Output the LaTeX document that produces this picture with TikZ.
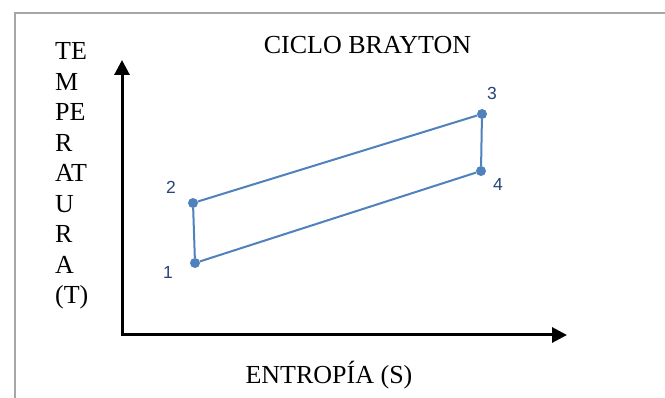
\documentclass[tikz,border=0pt]{standalone}
\usepackage{fontspec}
\setmainfont{Liberation Serif}
\newfontfamily\numfont{Liberation Sans}
\usetikzlibrary{arrows.meta}
\definecolor{cyc}{RGB}{79,129,189}
\definecolor{lab}{RGB}{38,68,120}
\definecolor{framec}{RGB}{166,166,166}
\begin{document}
\begin{tikzpicture}[x=1pt,y=-1pt,
  axis/.style={line width=3pt,{Triangle[length=15pt,width=15pt]}-{Triangle[length=15pt,width=15pt]}},
  cyclin/.style={draw=cyc,line width=2pt},
  pt/.style={circle,fill=cyc,inner sep=0pt,minimum size=10pt},
  num/.style={font=\numfont\fontsize{17.5}{20}\selectfont,text=lab,inner sep=0pt},
  big/.style={font=\fontsize{26}{30}\selectfont,inner sep=0pt}]
\useasboundingbox (0,0) rectangle (665,398);
\fill[white] (0,0) rectangle (665,398);
\draw[framec, line width=1.5pt] (15,402) -- (15,13) -- (669,13);
% axes
\coordinate (O) at (122,335);
\coordinate (ytip) at (122,60);
\coordinate (xtip) at (567,335);
\draw[axis] (ytip) -- (O) -- (xtip);
% cycle points
\node[pt] (p1) at (195,263) {};
\node[pt] (p2) at (193,203) {};
\node[pt] (p3) at (482,114) {};
\node[pt] (p4) at (481,171) {};
\draw[cyclin] (p1) -- (p2) -- (p3) -- (p4) -- (p1);
% labels
\node[num] (l1) at (168,272) {1};
\node[num] (l2) at (171,187) {2};
\node[num] (l3) at (492,93) {3};
\node[num] (l4) at (498,184) {4};
% texts
\node[big,anchor=base] (title) at (367.5,54) {CICLO BRAYTON};
\node[big,anchor=base] (xl) at (329,384) {ENTROPÍA (S)};
\foreach \t [count=\i] in {TE,M,PE,R,AT,U,R,A,(T)}
  \node[big,anchor=base west] (y\i) at (55,{60+30.5*(\i-1)}) {\t};
\end{tikzpicture}
\end{document}
